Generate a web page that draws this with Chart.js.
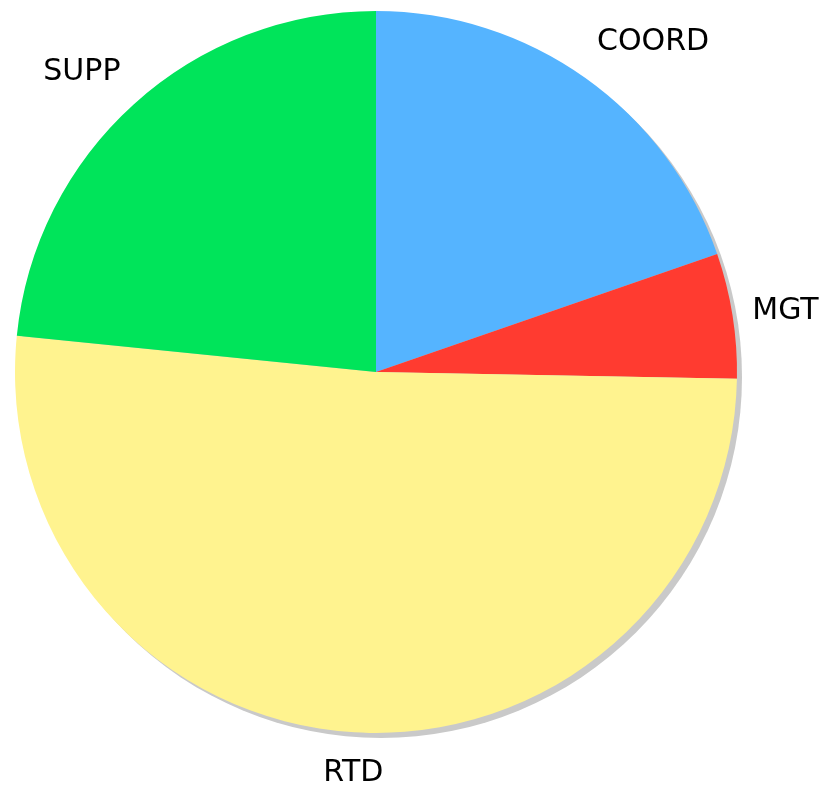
<!DOCTYPE html>
<html>
<head>
<meta charset="utf-8">
<script src="https://cdn.jsdelivr.net/npm/chart.js@4/dist/chart.umd.min.js"></script>
<style>
  body { margin: 0; background: #fff; }
  canvas { display: block; }
</style>
</head>
<body>
<canvas id="pieChart" width="826" height="785"></canvas>
<script>
const categories = ['COORD', 'MGT', 'RTD', 'SUPP'];
const shares = [19.7, 5.6, 51.3, 23.4];
const sliceColors = ['#55b4ff', '#ff3b30', '#fff38f', '#00e45a'];

// grey drop shadow behind the whole pie
const pieShadow = {
    id: 'pieShadow',
    beforeDatasetsDraw(chart) {
        const arc = chart.getDatasetMeta(0).data[0];
        if (!arc) return;
        const ctx = chart.ctx;
        ctx.save();
        ctx.fillStyle = '#c9c9c9';
        ctx.beginPath();
        ctx.arc(arc.x + 5, arc.y + 5, arc.outerRadius, 0, Math.PI * 2);
        ctx.fill();
        ctx.restore();
    }
};

// category names outside each slice
const outerLabels = {
    id: 'outerLabels',
    afterDatasetsDraw(chart) {
        const ctx = chart.ctx;
        ctx.save();
        ctx.font = '30px "DejaVu Sans", Verdana, sans-serif';
        ctx.fillStyle = '#000';
        chart.getDatasetMeta(0).data.forEach((arc, i) => {
            const mid = (arc.startAngle + arc.endAngle) / 2;
            const cx = Math.cos(mid), cy = Math.sin(mid);
            const d = arc.outerRadius + 20;
            const x = arc.x + cx * d;
            let y = arc.y + cy * d;
            ctx.textAlign = Math.abs(cx) < 0.2 ? 'center' : (cx > 0 ? 'left' : 'right');
            if (cy < 0) {
                ctx.textBaseline = 'alphabetic';
                y += 11 + 28 * cy;
            } else {
                ctx.textBaseline = 'top';
                y += 6;
            }
            ctx.fillText(chart.data.labels[i], x, y);
        });
        ctx.restore();
    }
};

const ctx = document.getElementById('pieChart').getContext('2d');
const pieChart = new Chart(ctx, {
    type: 'pie',
    data: {
        labels: categories,
        datasets: [{
            data: shares,
            backgroundColor: sliceColors,
            borderWidth: 0,
            hoverOffset: 0
        }]
    },
    options: {
        responsive: false,
        animation: false,
        layout: {
            padding: { left: 15, right: 89, top: 11, bottom: 52 }
        },
        plugins: {
            legend: { display: false },
            tooltip: { enabled: false }
        }
    },
    plugins: [pieShadow, outerLabels]
});
</script>
</body>
</html>
